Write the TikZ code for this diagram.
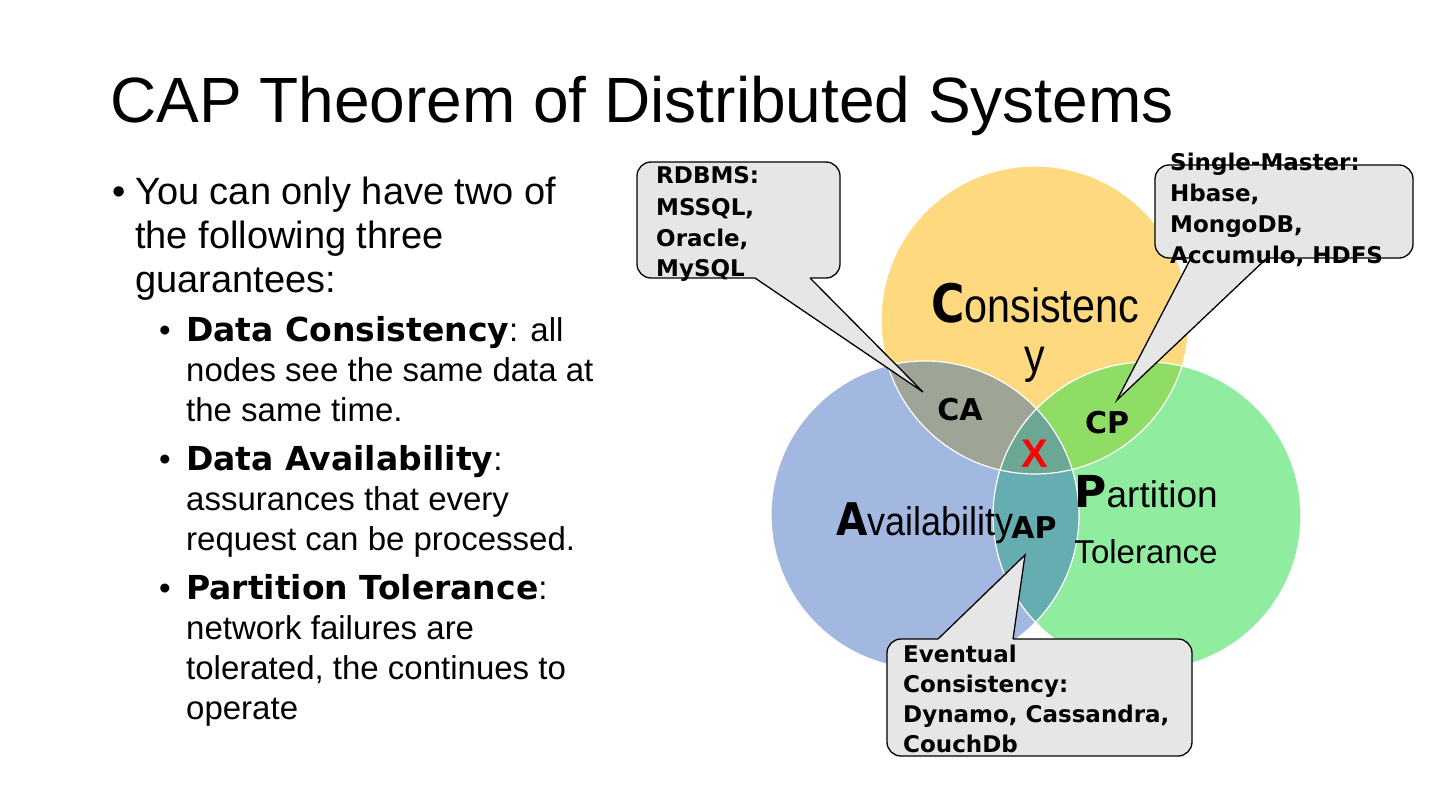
\documentclass[tikz,border=0pt]{standalone}
\usepackage{fontspec}
\setmainfont{Liberation Sans}[BoldFont={DejaVu Sans Bold}]
\newfontfamily\xmarkfont{Liberation Sans Bold}
\usepackage{graphicx}
\usetikzlibrary{positioning}
\definecolor{capyel}{RGB}{255,217,128}
\definecolor{capblu}{RGB}{162,184,224}
\definecolor{capgrn}{RGB}{144,236,158}
\definecolor{capca}{RGB}{158,165,150}
\definecolor{capcp}{RGB}{143,221,100}
\definecolor{capap}{RGB}{102,173,178}
\definecolor{capall}{RGB}{108,166,148}
\definecolor{capbub}{RGB}{230,230,230}
\definecolor{capred}{RGB}{255,0,0}
\tikzset{
  ttl/.style={anchor=base west, inner sep=0pt, font=\fontsize{64}{77}\selectfont},
  lvlone/.style={anchor=base west, inner sep=0pt, align=left, font=\fontsize{38}{44}\selectfont},
  lvltwo/.style={anchor=base west, inner sep=0pt, align=left, font=\fontsize{33}{40}\selectfont},
  dotone/.style={anchor=base west, inner sep=0pt, font=\fontsize{38}{44}\selectfont},
  dottwo/.style={anchor=base west, inner sep=0pt, font=\fontsize{33}{40}\selectfont},
  venn/.style={draw=white, line width=1.2pt},
  setlbl/.style={anchor=base, inner sep=0pt},
  pairlbl/.style={anchor=base, inner sep=0pt, font=\fontsize{30}{30}\selectfont\bfseries},
  bubble/.style={draw=black, fill=capbub, line width=1.3pt, rounded corners=14pt},
  wedge/.style={draw=black, line width=1.3pt, line join=miter},
  bubtxt/.style={anchor=base west, inner sep=0pt, align=left, font=\fontsize{23}{31}\selectfont\bfseries}
}
\newcommand{\bigini}[2]{{\fontsize{#1}{#1}\selectfont\bfseries #2}}
\def\vr{154pt}

\begin{document}
\begin{tikzpicture}[x=1pt, y=-1pt]
  \useasboundingbox[fill=white] (0,0) rectangle (1440,810);

  % title and bullet list (base = last line)
  \node[ttl] (title) at (110,123) {CAP Theorem of Distributed Systems};
  \node[dotone] (d0) at (112,205) {•};
  \node[lvlone] (guar) at (135,293) {You can only have two of\\the following three\\guarantees:};
  \node[dottwo] (d1) at (159,341) {•};
  \node[lvltwo] (itc) at (186,421) {\textbf{Data Consistency}: all\\nodes see the same data at\\the same time.};
  \node[dottwo] (d2) at (159,470) {•};
  \node[lvltwo] (ita) at (186,550) {\textbf{Data Availability}:\\assurances that every\\request can be processed.};
  \node[dottwo] (d3) at (159,599) {•};
  \node[lvltwo] (itp) at (186,719) {\textbf{Partition Tolerance}:\\network failures are\\tolerated, the continues to\\operate};

  % venn circles
  \coordinate (cc) at (1035,320);
  \coordinate (ac) at (925,515);
  \coordinate (pc) at (1147,516);
  \fill[capblu] (ac) circle[radius=\vr];
  \fill[capgrn] (pc) circle[radius=\vr];
  \fill[capyel] (cc) circle[radius=\vr];
  \begin{scope}
    \clip (ac) circle[radius=\vr];
    \fill[capap] (pc) circle[radius=\vr];
  \end{scope}
  \begin{scope}
    \clip (cc) circle[radius=\vr];
    \fill[capca] (ac) circle[radius=\vr];
    \fill[capcp] (pc) circle[radius=\vr];
    \clip (ac) circle[radius=\vr];
    \fill[capall] (pc) circle[radius=\vr];
  \end{scope}
  \draw[venn] (cc) circle[radius=\vr];
  \draw[venn] (ac) circle[radius=\vr];
  \draw[venn] (pc) circle[radius=\vr];

  % set and pair labels
  \node[setlbl] (cons) at (1035,322) {\scalebox{0.86}[1]{\bigini{53}{C}\fontsize{48}{48}\selectfont onsistenc}};
  \node[setlbl] (consy) at (1035,372) {\scalebox{0.86}[1]{\fontsize{48}{48}\selectfont y}};
  \node[setlbl] (avail) at (925,535) {\scalebox{0.9}[1]{\bigini{45}{A}\fontsize{40}{40}\selectfont vailability}};
  \node[setlbl] (part) at (1146,507) {\bigini{44}{P}\fontsize{37}{37}\selectfont artition};
  \node[setlbl, font=\fontsize{33}{33}\selectfont] (tol) at (1146,563) {Tolerance};
  \node[pairlbl] (ca) at (960,420) {CA};
  \node[pairlbl] (cp) at (1107,433) {CP};
  \node[pairlbl] (ap) at (1034,538) {AP};
  \node[setlbl, text=capred, font=\fontsize{40}{40}\xmarkfont] (nox) at (1035,467) {X};

  % callouts
  \coordinate (catip) at (923,392);
  \coordinate (cptip) at (1117,400);
  \coordinate (aptip) at (1025,555);
  \draw[bubble] (637,162) rectangle (840,278);
  \fill[capbub] (755,274) -- (755,278) -- (catip) -- (810,278) -- (810,274) -- cycle;
  \draw[wedge] (755,278) -- (catip) -- (810,278);
  \draw[bubble] (1155,165) rectangle (1413,258);
  \fill[capbub] (1191,254) -- (1191,258) -- (cptip) -- (1267,258) -- (1267,254) -- cycle;
  \draw[wedge] (1191,258) -- (cptip) -- (1267,258);
  \draw[bubble] (887,639) rectangle (1192,756);
  \fill[capbub] (938,643) -- (938,639) -- (aptip) -- (1013,639) -- (1013,643) -- cycle;
  \draw[wedge] (938,639) -- (aptip) -- (1013,639);
  \node[bubtxt] (rdbms) at (656,277) {RDBMS:\\MSSQL,\\Oracle,\\MySQL};
  \node[bubtxt] (single) at (1170,264) {Single-Master:\\Hbase,\\MongoDB,\\Accumulo, HDFS};
  \node[bubtxt, font=\fontsize{23}{30}\selectfont\bfseries] (eventual) at (903,752) {Eventual\\Consistency:\\Dynamo, Cassandra,\\CouchDb};
\end{tikzpicture}
\end{document}
